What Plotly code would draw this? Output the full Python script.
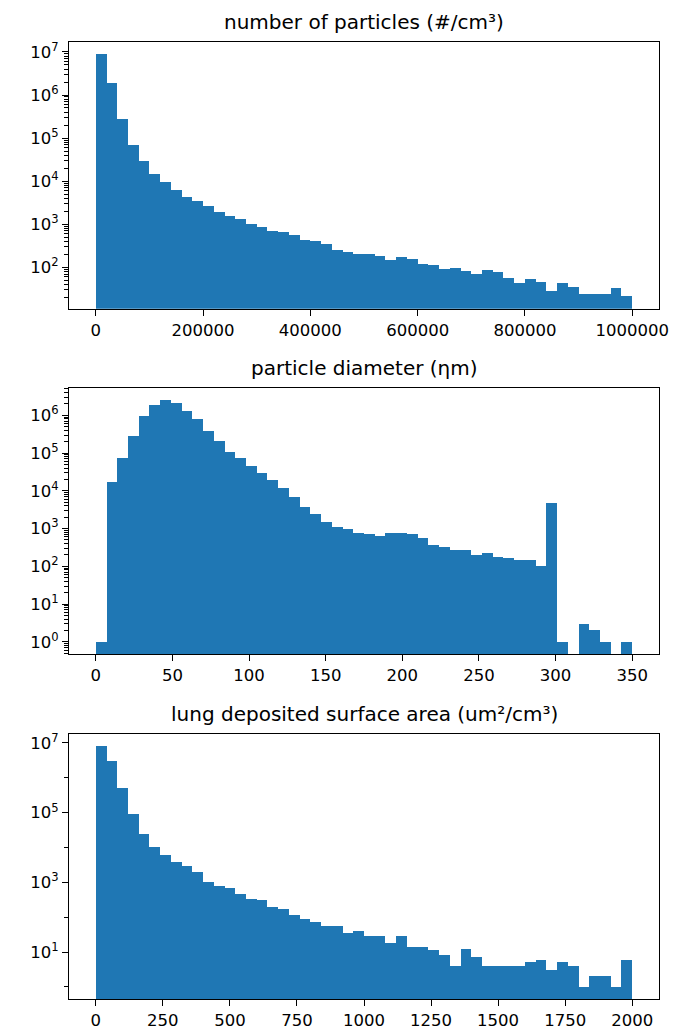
import numpy as np
import plotly.graph_objects as go

# ---------------- data ----------------
titles = ["number of particles (#/cm³)", "particle diameter (ηm)", "lung deposited surface area (um²/cm³)"]

# panel 1: number of particles, 50 bins over [0, 1e6]
p1_range = (0, 1000000)
p1_counts = [8.9e6, 1.9e6, 2.8e5, 6.9e4, 3.0e4, 1.45e4, 9.8e3, 6.3e3, 4.4e3, 3.4e3,
             2.6e3, 1.9e3, 1.55e3, 1.35e3, 1.02e3, 880, 710, 660, 570, 425,
             400, 350, 260, 230, 200, 200, 180, 147, 172, 160,
             121, 113, 90, 96, 84, 69, 85, 80, 58, 44,
             55, 45, 29, 44, 36, 24, 24, 24, 33, 22]

# panel 2: particle diameter, 50 bins over [0, 350]
p2_range = (0, 350)
p2_counts = [1, 1.65e4, 7.3e4, 2.8e5, 9.3e5, 1.9e6, 2.46e6, 2.1e6, 1.3e6, 8.0e5,
             3.9e5, 2.05e5, 1.06e5, 7.3e4, 4.4e4, 2.9e4, 1.95e4, 1.2e4, 6.8e3, 3.8e3,
             2.4e3, 1.5e3, 1.12e3, 960, 780, 720, 650, 770, 770, 720,
             565, 370, 320, 270, 270, 200, 223, 178, 165, 147,
             147, 100, 4.7e3, 1, 0, 3, 2, 1, 0, 1]

# panel 3: lung deposited surface area, 50 bins over [0, 2000]
p3_range = (0, 2000)
p3_counts = [7.9e6, 3.0e6, 4.9e5, 9.2e4, 2.4e4, 1.05e4, 6.2e3, 3.9e3, 3.0e3, 1.9e3,
             1.02e3, 800, 660, 466, 330, 300, 190, 175, 112, 87,
             73, 56, 56, 36, 40, 28, 28, 18, 28, 14,
             14, 11, 8, 4, 12, 7, 4, 4, 4, 4,
             5, 6, 3, 5, 4, 1, 2, 2, 1, 6]

p1_xticks = [0, 200000, 400000, 600000, 800000, 1000000]
p2_xticks = [0, 50, 100, 150, 200, 250, 300, 350]
p3_xticks = [0, 250, 500, 750, 1000, 1250, 1500, 1750, 2000]

p1_ydec = [2, 3, 4, 5, 6, 7]
p2_ydec = [0, 1, 2, 3, 4, 5, 6]
p3_ydec = [1, 3, 5, 7]

# ---------------- figure ----------------
W, H = 692, 1034
ML, MR, MT, MB = 61, 41, 34, 35
plot_h = H - MT - MB

def ydom(top_px, bot_px):
    return [(H - MB - bot_px) / plot_h, (H - MB - top_px) / plot_h]

panels = [
    dict(rng=p1_range, counts=p1_counts, xticks=p1_xticks, ydec=p1_ydec,
         yr=[1.04, 7.23], dom=ydom(34, 303), minor_all=True),
    dict(rng=p2_range, counts=p2_counts, xticks=p2_xticks, ydec=p2_ydec,
         yr=[-0.32, 6.72], dom=ydom(383, 651), minor_all=True),
    dict(rng=p3_range, counts=p3_counts, xticks=p3_xticks, ydec=p3_ydec,
         yr=[-0.345, 7.25], dom=ydom(732, 999), minor_all=False),
]

fig = go.Figure()
font_tick = dict(family="DejaVu Sans", size=16.5, color="black")
layout = dict(width=W, height=H, margin=dict(l=ML, r=MR, t=MT, b=MB),
              paper_bgcolor="white", plot_bgcolor="white", showlegend=False,
              bargap=0, font=dict(family="DejaVu Sans"))
annotations = []

for i, p in enumerate(panels):
    n = len(p["counts"])
    edges = np.linspace(p["rng"][0], p["rng"][1], n + 1)
    width = edges[1] - edges[0]
    centers = (edges[:-1] + edges[1:]) / 2
    yvals = [c if c > 0 else None for c in p["counts"]]
    ax = "" if i == 0 else str(i + 1)
    fig.add_trace(go.Bar(x=centers, y=yvals, width=width, marker=dict(color="#1f77b4", line=dict(width=0)),
                         xaxis="x" + ax, yaxis="y" + ax, hoverinfo="x+y"))
    span = p["rng"][1] - p["rng"][0]
    xr = [p["rng"][0] - 0.05 * span, p["rng"][1] + 0.05 * span]
    # minor ticks
    lo, hi = int(np.floor(p["yr"][0])), int(np.ceil(p["yr"][1]))
    minor_vals = []
    for d in range(lo - 1, hi + 1):
        if p["minor_all"]:
            for s in range(2, 10):
                v = s * 10.0 ** d
                if p["yr"][0] <= np.log10(v) <= p["yr"][1]:
                    minor_vals.append(v)
        else:
            if d not in p["ydec"] and p["yr"][0] <= d <= p["yr"][1]:
                minor_vals.append(10.0 ** d)
    layout["xaxis" + ax] = dict(domain=[0, 1], range=xr, anchor="y" + ax,
                                tickvals=p["xticks"], ticktext=[str(t) for t in p["xticks"]],
                                ticks="outside", ticklen=6, tickwidth=1.3, tickcolor="black",
                                showline=True, linecolor="black", linewidth=1.3, mirror=True,
                                showgrid=False, zeroline=False, tickfont=font_tick)
    layout["yaxis" + ax] = dict(domain=p["dom"], type="log", range=p["yr"], anchor="x" + ax,
                                tickvals=[10.0 ** d for d in p["ydec"]],
                                ticktext=["10<sup>%d</sup>" % d for d in p["ydec"]],
                                ticks="outside", ticklen=6, tickwidth=1.3, tickcolor="black",
                                minor=dict(tickvals=minor_vals, ticks="outside", ticklen=3.5,
                                           tickwidth=1, tickcolor="black", showgrid=False),
                                showline=True, linecolor="black", linewidth=1.3, mirror=True,
                                showgrid=False, zeroline=False, tickfont=font_tick)
    annotations.append(dict(text=titles[i], x=0.5, xref="paper", y=p["dom"][1], yref="paper",
                            xanchor="center", yanchor="bottom", yshift=6, showarrow=False,
                            font=dict(family="DejaVu Sans", size=20, color="black")))

layout["annotations"] = annotations
fig.update_layout(**layout)
fig.write_html("out.html")
